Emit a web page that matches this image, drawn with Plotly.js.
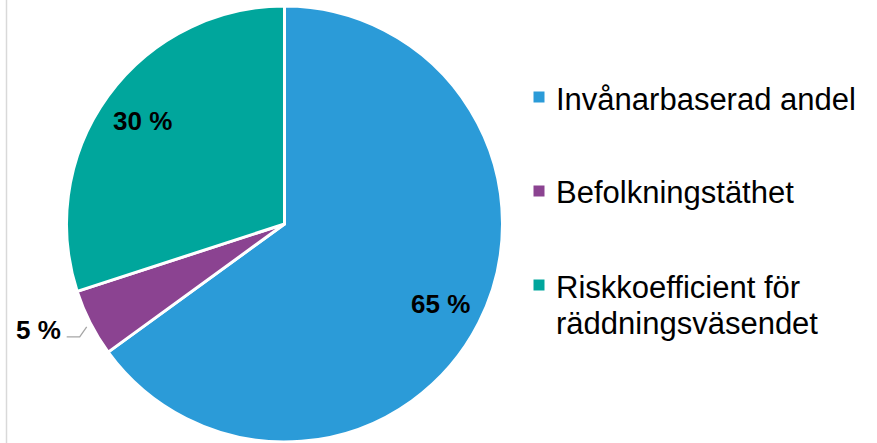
<!DOCTYPE html>
<html>
<head>
<meta charset="utf-8">
<script src="https://cdn.plot.ly/plotly-3.0.1.min.js"></script>
<style>html,body{margin:0;padding:0;background:#fff;}#chart{width:877px;height:443px;}</style>
</head>
<body>
<div id="chart"></div>
<script>
const categories = ['Invånarbaserad andel', 'Befolkningstäthet', 'Riskkoefficient för räddningsväsendet'];
const values = [65, 5, 30];
const labelTexts = ['65 %', '5 %', '30 %'];
const colors = ['#2B9BD8', '#8B4391', '#00A69C'];

const W = 877, H = 443;
const cx = 284.5, cy = 224, R = 218;
const px = x => x / W;
const py = y => 1 - y / H;

const total = values.reduce((a, b) => a + b, 0);
const annotations = [];
const shapes = [];

// left frame line
shapes.push({type: 'line', xref: 'paper', yref: 'paper', x0: px(6.5), x1: px(6.5), y0: 0, y1: 1,
  line: {color: '#D9D9D9', width: 1.5}});

const labFont = {family: 'Liberation Sans, Arial, sans-serif', size: 26, color: '#000'};
let cum = 0;
values.forEach((v, i) => {
  const frac = v / total;
  const mid = (cum + frac / 2) * 2 * Math.PI;
  cum += frac;
  const s = Math.sin(mid), c = Math.cos(mid);
  if (frac >= 0.1) {
    const r = 0.805 * R;
    annotations.push({xref: 'paper', yref: 'paper', x: px(cx + r * s), y: py(cy - r * c),
      text: '<b>' + labelTexts[i] + '</b>', showarrow: false, xanchor: 'center', yanchor: 'middle',
      font: labFont});
  } else {
    // outside label with leader line
    const ex = cx + (R + 4) * s, ey = cy - (R + 4) * c + 2;
    const bx = ex - 7, by = ey + 10;
    const lx = bx - 13;
    shapes.push({type: 'path', xref: 'paper', yref: 'paper',
      path: `M ${px(ex)} ${py(ey)} L ${px(bx)} ${py(by)} L ${px(lx)} ${py(by)}`,
      line: {color: '#A6A6A6', width: 1.3}});
    annotations.push({xref: 'paper', yref: 'paper', x: px(lx - 4), y: py(by - 7),
      text: '<b>' + labelTexts[i] + '</b>', showarrow: false, xanchor: 'right', yanchor: 'middle',
      font: labFont});
  }
});

// manual legend
const legX = 533.5, legTextX = 554;
const legY = [97, 191, 285];
const lineGap = 36;
function wrap(t, maxChars) {
  const words = t.split(' '); const lines = []; let cur = '';
  words.forEach(w => {
    if ((cur + ' ' + w).trim().length > maxChars && cur) { lines.push(cur); cur = w; }
    else cur = (cur + ' ' + w).trim();
  });
  if (cur) lines.push(cur);
  return lines;
}
categories.forEach((cat, i) => {
  const y = legY[i];
  shapes.push({type: 'rect', xref: 'paper', yref: 'paper', x0: px(legX), x1: px(legX + 11),
    y0: py(y + 5.5), y1: py(y - 5.5), fillcolor: colors[i], line: {width: 0}});
  wrap(cat, 20).forEach((ln, k) => {
    annotations.push({xref: 'paper', yref: 'paper', x: px(legTextX), y: py(y + 2 + k * lineGap),
      text: ln, showarrow: false, xanchor: 'left', yanchor: 'middle',
      font: {family: 'Liberation Sans, Arial, sans-serif', size: 31, color: '#000'}});
  });
});

const data = [{
  type: 'pie',
  labels: categories,
  values: values,
  sort: false,
  direction: 'clockwise',
  rotation: 0,
  textinfo: 'none',
  hoverinfo: 'label+percent',
  marker: {colors: colors, line: {color: '#FFFFFF', width: 3}},
  domain: {x: [px(cx - R), px(cx + R)], y: [py(cy + R), py(cy - R)]},
  showlegend: false
}];

const layout = {
  width: W, height: H,
  margin: {l: 0, r: 0, t: 0, b: 0},
  paper_bgcolor: '#FFFFFF',
  showlegend: false,
  shapes: shapes,
  annotations: annotations
};

Plotly.newPlot('chart', data, layout, {displayModeBar: false, staticPlot: true});
</script>
</body>
</html>
